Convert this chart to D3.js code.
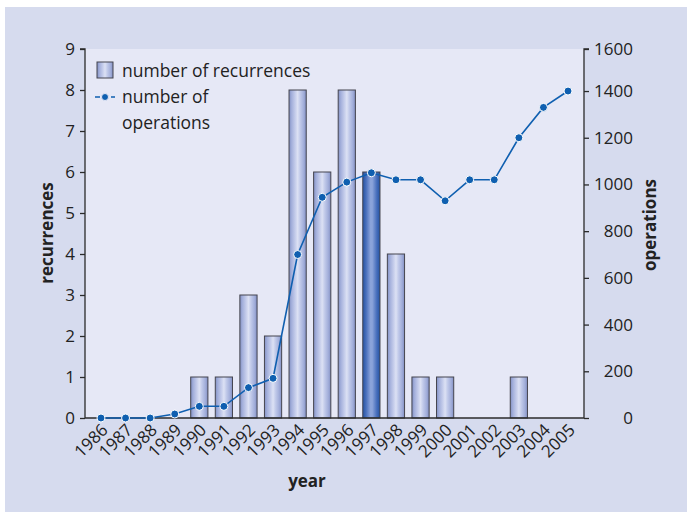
<!DOCTYPE html>
<html>
<head>
<meta charset="utf-8">
<script src="https://cdn.jsdelivr.net/npm/d3@7"></script>
<style>
  html, body { margin: 0; padding: 0; background: #ffffff; }
  svg { display: block; font-family: "Open Sans", "Noto Sans", sans-serif; }
</style>
</head>
<body>
<svg id="chart" width="692" height="519"></svg>
<script>
// Yearly data
const years = ["1986","1987","1988","1989","1990","1991","1992","1993","1994","1995",
               "1996","1997","1998","1999","2000","2001","2002","2003","2004","2005"];
const recurrences = [0,0,0,0,1,1,3,2,8,6,8,6,4,1,1,0,0,1,0,0];
const operations = [0,0,0,17,50,50,130,170,700,945,1010,1050,1020,1020,930,1020,1020,1200,1330,1400];
const highlightYear = "1997";

const leftTicks = [0,1,2,3,4,5,6,7,8,9];
const rightTicks = [0,200,400,600,800,1000,1200,1400,1600];

const svg = d3.select("#chart");
const fontSize = 17;

// Panel background
svg.append("rect").attr("x", 5).attr("y", 7).attr("width", 682).attr("height", 505)
  .attr("fill", "#d6dbee");

const plot = { left: 85, right: 584, top: 49, bottom: 418 };

svg.append("rect")
  .attr("x", plot.left).attr("y", plot.top)
  .attr("width", plot.right - plot.left).attr("height", plot.bottom - plot.top)
  .attr("fill", "#e6e8f6");

// Scales
const x = d3.scaleBand().domain(years).range([plot.left, plot.right])
  .paddingInner(0.3).paddingOuter(0.3);
const yL = d3.scaleLinear().domain([0, 9]).range([plot.bottom, plot.top]);
const yR = d3.scaleLinear().domain([0, 1580]).range([plot.bottom, plot.top]).clamp(true);

// Bar gradients
const defs = svg.append("defs");
function stripeGradient(id, stops) {
  const g = defs.append("linearGradient").attr("id", id)
    .attr("x1", "0%").attr("x2", "100%").attr("y1", "0%").attr("y2", "0%");
  stops.forEach(([o, c]) => g.append("stop").attr("offset", o).attr("stop-color", c));
}
stripeGradient("barGrad", [
  ["0%", "#8391c4"], ["15%", "#a3afdb"], ["35%", "#c3cbea"], ["50%", "#dce1f4"],
  ["65%", "#c0c9e9"], ["85%", "#a2aeda"], ["100%", "#8390c3"]
]);
stripeGradient("barGradHi", [
  ["0%", "#2452a2"], ["20%", "#4a70bd"], ["45%", "#8ba3da"], ["55%", "#8ba3da"],
  ["80%", "#4a70bd"], ["100%", "#2452a2"]
]);

// Bars
svg.append("g").selectAll("rect")
  .data(years.map((yr, i) => ({ yr, v: recurrences[i] })).filter(d => d.v > 0))
  .join("rect")
  .attr("x", d => x(d.yr))
  .attr("y", d => yL(d.v))
  .attr("width", x.bandwidth())
  .attr("height", d => yL(0) - yL(d.v))
  .attr("fill", d => d.yr === highlightYear ? "url(#barGradHi)" : "url(#barGrad)")
  .attr("stroke", "#45454f")
  .attr("stroke-width", 1);

// Axes
const axisColor = "#2b2b2b";
const leftAxis = svg.append("g").attr("transform", `translate(${plot.left},0)`)
  .call(d3.axisLeft(yL).tickValues(leftTicks).tickSize(5).tickPadding(5).tickFormat(d3.format("d")));
const rightAxis = svg.append("g").attr("transform", `translate(${plot.right},0)`)
  .call(d3.axisRight(yR).tickValues(rightTicks).tickSize(5).tickPadding(44).tickFormat(d3.format("d")));
rightAxis.selectAll("text").attr("text-anchor", "end");

const bottomAxis = svg.append("g").attr("transform", `translate(0,${plot.bottom})`)
  .call(d3.axisBottom(x).tickSize(0).tickPadding(0));
bottomAxis.selectAll("text")
  .attr("text-anchor", "end")
  .attr("dy", null)
  .attr("transform", "translate(8,13) rotate(-45)");

[leftAxis, rightAxis, bottomAxis].forEach(a => {
  a.select(".domain").attr("stroke", axisColor).attr("stroke-width", 1.3);
  a.selectAll(".tick line").attr("stroke", axisColor).attr("stroke-width", 1.3);
  a.selectAll("text").attr("fill", "#222").attr("font-size", fontSize)
    .attr("font-family", "'Open Sans', 'Noto Sans', sans-serif");
});
leftAxis.select(".domain").attr("d", `M-5,${plot.top}H0V${plot.bottom}`);
rightAxis.select(".domain").attr("d", `M5,${plot.top}H0V${plot.bottom}`);
bottomAxis.select(".domain").attr("d", `M${plot.left},0H${plot.right}`);

// Operations line
const lineColor = "#0f5fb0";
const pts = years.map((yr, i) => ({ yr, v: operations[i] }));
svg.append("path")
  .datum(pts)
  .attr("fill", "none")
  .attr("stroke", lineColor)
  .attr("stroke-width", 1.6)
  .attr("d", d3.line().x(d => x(d.yr) + x.bandwidth() / 2).y(d => yR(d.v)));
svg.append("g").selectAll("circle")
  .data(pts)
  .join("circle")
  .attr("cx", d => x(d.yr) + x.bandwidth() / 2)
  .attr("cy", d => yR(d.v))
  .attr("r", 4)
  .attr("fill", lineColor)
  .attr("stroke", "#ffffff")
  .attr("stroke-width", 1);

// Axis titles
svg.append("text").attr("transform", "translate(53,233) rotate(-90)")
  .attr("text-anchor", "middle").attr("font-size", fontSize).attr("font-weight", "bold")
  .attr("fill", "#222").text("recurrences");
svg.append("text").attr("transform", "translate(656,225) rotate(-90)")
  .attr("text-anchor", "middle").attr("font-size", fontSize).attr("font-weight", "bold")
  .attr("fill", "#222").text("operations");
svg.append("text").attr("x", 307).attr("y", 487)
  .attr("text-anchor", "middle").attr("font-size", fontSize).attr("font-weight", "bold")
  .attr("fill", "#222").text("year");

// Legend
const lg = svg.append("g");
lg.append("rect").attr("x", 97).attr("y", 62).attr("width", 16).attr("height", 16)
  .attr("fill", "url(#barGrad)").attr("stroke", "#45454f").attr("stroke-width", 1);
lg.append("text").attr("x", 122).attr("y", 77).attr("font-size", 17.5).attr("fill", "#222")
  .text("number of recurrences");
lg.append("line").attr("x1", 95).attr("x2", 115).attr("y1", 97).attr("y2", 97)
  .attr("stroke", lineColor).attr("stroke-width", 1.6).attr("stroke-dasharray", "5,3");
lg.append("circle").attr("cx", 105).attr("cy", 97).attr("r", 3.5).attr("fill", lineColor)
  .attr("stroke", "#e6e8f6").attr("stroke-width", 1);
lg.append("text").attr("x", 122).attr("y", 103).attr("font-size", 17.5).attr("fill", "#222")
  .text("number of");
lg.append("text").attr("x", 122).attr("y", 129).attr("font-size", 17.5).attr("fill", "#222")
  .text("operations");
</script>
</body>
</html>
